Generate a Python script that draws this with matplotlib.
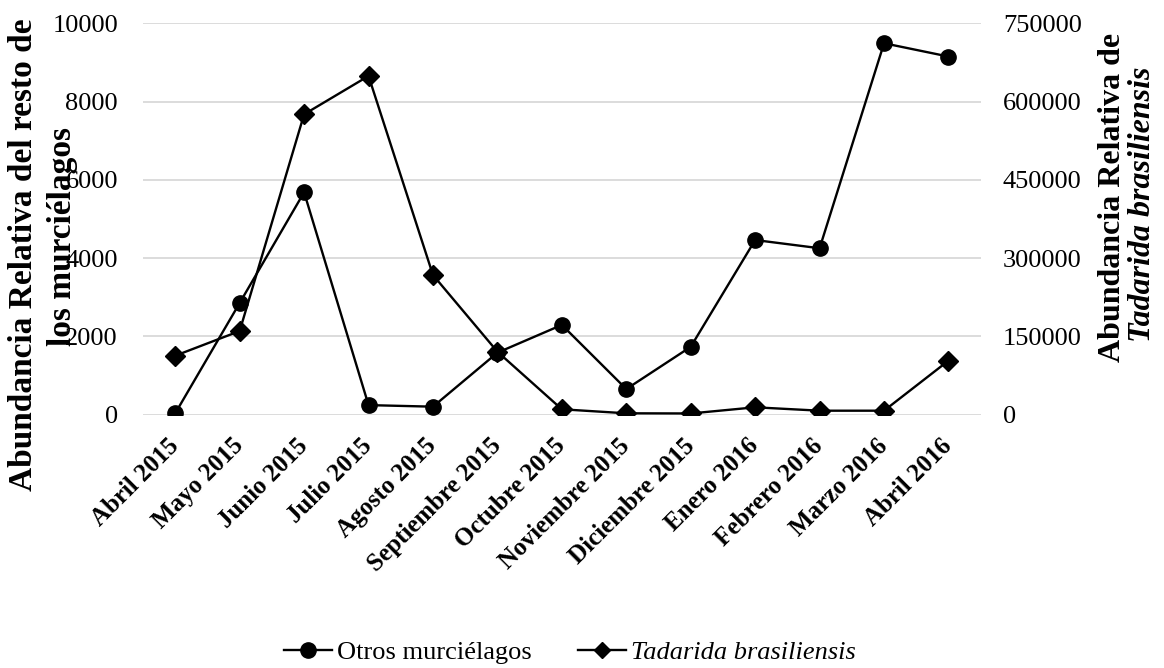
import matplotlib
matplotlib.use("Agg")
import matplotlib.pyplot as plt
from matplotlib.lines import Line2D

months = ["Abril 2015", "Mayo 2015", "Junio 2015", "Julio 2015", "Agosto 2015",
          "Septiembre 2015", "Octubre 2015", "Noviembre 2015", "Diciembre 2015",
          "Enero 2016", "Febrero 2016", "Marzo 2016", "Abril 2016"]
otros = [30, 2850, 5680, 240, 200, 1580, 2290, 650, 1730, 4460, 4250, 9490, 9150]
tadarida = [112700, 160000, 575500, 649000, 267400, 120400, 10000, 2300, 2000,
            13800, 7300, 7300, 103200]
left_ticks = [0, 2000, 4000, 6000, 8000, 10000]
right_ticks = [0, 150000, 300000, 450000, 600000, 750000]

plt.rcParams['font.family'] = ['Liberation Serif', 'DejaVu Serif']

fig = plt.figure(figsize=(11.64, 6.68), dpi=100)
W, H = 1164, 668
ax = fig.add_axes([143 / W, 1 - 414.5 / H, (980.7 - 143) / W, (414.5 - 23.3) / H])
ax2 = ax.twinx()

x = list(range(len(months)))
ax.plot(x, otros, color='black', lw=1.7, marker='o', ms=11, zorder=3)
ax2.plot(x, tadarida, color='black', lw=1.7, marker='D', ms=10, zorder=3)

ax.set_xlim(-0.5, len(months) - 0.5)
ax.set_ylim(0, 10000)
ax2.set_ylim(0, 750000)
ax.set_yticks(left_ticks)
ax.set_yticklabels([str(v) for v in left_ticks], fontsize=19)
ax2.set_yticks(right_ticks)
ax2.set_yticklabels([str(v) for v in right_ticks], fontsize=19)
ax.yaxis.grid(True, color='#d9d9d9', lw=1.3)
ax.set_axisbelow(True)
for a in (ax, ax2):
    for s in a.spines.values():
        s.set_visible(False)
    a.tick_params(length=0)
ax.tick_params(axis='y', pad=18)
ax2.tick_params(axis='y', pad=16)

ax.set_xticks(x)
ax.set_xticklabels(months, fontsize=18, fontweight='bold', rotation=45,
                   ha='right', va='center', rotation_mode='anchor')
ax.tick_params(axis='x', pad=20)

fig.text(24 / W, 1 - 255 / H, "Abundancia Relativa del resto de", rotation=90,
         fontsize=24, fontweight='bold', ha='center', va='center')
fig.text(63 / W, 1 - 237 / H, "los murciélagos", rotation=90,
         fontsize=24, fontweight='bold', ha='center', va='center')
fig.text(1113 / W, 1 - 197 / H, "Abundancia Relativa de", rotation=90,
         fontsize=23, fontweight='bold', ha='center', va='center')
fig.text(1143 / W, 1 - 204 / H, "Tadarida brasiliensis", rotation=90,
         fontsize=23, fontweight='bold', style='italic', ha='center', va='center')

h1 = Line2D([], [], color='black', lw=1.7, marker='o', ms=11)
h2 = Line2D([], [], color='black', lw=1.7, marker='D', ms=8)
leg = fig.legend([h1, h2], ["Otros murciélagos", "Tadarida brasiliensis"],
                 loc='center', bbox_to_anchor=(570 / W, 1 - 652 / H), ncol=2,
                 frameon=False, fontsize=19, handlelength=1.8, handletextpad=0.2,
                 columnspacing=1.75, borderpad=0, borderaxespad=0)
leg.get_texts()[1].set_style('italic')

fig.savefig("out.png", dpi=100)
